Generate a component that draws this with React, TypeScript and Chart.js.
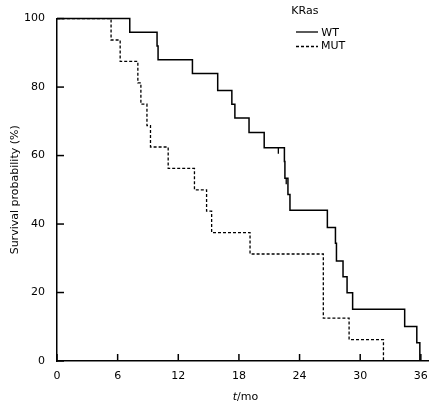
import React, { useEffect, useRef } from 'react';
import { Chart, registerables } from 'chart.js';

Chart.register(...registerables);

const xTicks = [0, 6, 12, 18, 24, 30, 36];
const yTicks = [0, 20, 40, 60, 80, 100];

const wtTimes = [0, 7.2, 9.9, 10.0, 13.4, 15.9, 17.3, 17.6, 19.0, 20.5, 22.5, 22.55, 22.85, 23.05, 26.75, 27.55, 27.65, 28.3, 28.7, 29.25, 34.4, 35.6, 35.9];
const wtSurv = [100, 96, 92, 88, 84, 79, 75, 71, 66.7, 62.3, 58.3, 53.4, 48.6, 44, 39, 34.4, 29.2, 24.6, 19.9, 15.1, 10.1, 5.3, 0];

const mutTimes = [0, 5.35, 6.25, 8.0, 8.3, 8.9, 9.25, 11.0, 13.6, 14.8, 15.3, 19.1, 26.35, 28.9, 32.3];
const mutSurv = [100, 93.75, 87.5, 81.25, 75, 68.75, 62.5, 56.25, 50, 43.75, 37.5, 31.25, 12.5, 6.25, 0];

const wtCensorTimes = [21.9, 22.68];
const wtCensorSurv = [62.3, 53.4];

const seriesLabels = ['WT', 'MUT'];
const legendTitle = 'KRas';
const yTitle = 'Survival probability (%)';
const xTitleItalic = 't';
const xTitleRest = '/mo';

const FONT = '"DejaVu Sans", Verdana, sans-serif';

const decorPlugin = {
  id: 'decor',
  afterDraw(chart: any) {
    const ctx = chart.ctx as CanvasRenderingContext2D;
    const xs = chart.scales.x;
    const ys = chart.scales.y;
    ctx.save();
    ctx.strokeStyle = '#000';
    ctx.lineWidth = 1.5;
    ctx.setLineDash([]);
    // inner ticks
    yTicks.forEach((v) => {
      const y = ys.getPixelForValue(v);
      ctx.beginPath();
      ctx.moveTo(xs.left, y);
      ctx.lineTo(xs.left + 7, y);
      ctx.stroke();
    });
    xTicks.forEach((v) => {
      const x = xs.getPixelForValue(v);
      ctx.beginPath();
      ctx.moveTo(x, ys.bottom);
      ctx.lineTo(x, ys.bottom - 7);
      ctx.stroke();
    });
    // censor marks
    ctx.lineWidth = 1.3;
    wtCensorTimes.forEach((t, i) => {
      const x = xs.getPixelForValue(t);
      const y = ys.getPixelForValue(wtCensorSurv[i]);
      ctx.beginPath();
      ctx.moveTo(x, y);
      ctx.lineTo(x, y + 6);
      ctx.stroke();
    });
    // legend
    ctx.fillStyle = '#000';
    ctx.font = `11px ${FONT}`;
    ctx.textAlign = 'left';
    ctx.textBaseline = 'alphabetic';
    ctx.fillText(legendTitle, 291.3, 13.5);
    ctx.lineWidth = 1.3;
    ctx.beginPath();
    ctx.moveTo(296, 32);
    ctx.lineTo(318, 32);
    ctx.stroke();
    ctx.fillText(seriesLabels[0], 321.3, 35.7);
    ctx.setLineDash([3, 2]);
    ctx.beginPath();
    ctx.moveTo(296, 46.5);
    ctx.lineTo(318, 46.5);
    ctx.stroke();
    ctx.setLineDash([]);
    ctx.fillText(seriesLabels[1], 321, 49.3);
    // x title
    ctx.font = `italic 11px ${FONT}`;
    const w1 = ctx.measureText(xTitleItalic).width;
    ctx.font = `11px ${FONT}`;
    const w2 = ctx.measureText(xTitleRest).width;
    const start = 245.5 - (w1 + w2) / 2;
    ctx.font = `italic 11px ${FONT}`;
    ctx.fillText(xTitleItalic, start, 400);
    ctx.font = `11px ${FONT}`;
    ctx.fillText(xTitleRest, start + w1, 400);
    ctx.restore();
  },
};

export default function App() {
  const ref = useRef<HTMLCanvasElement | null>(null);
  useEffect(() => {
    if (!ref.current) return;
    const chart = new Chart(ref.current, {
      type: 'line',
      data: {
        datasets: [
          {
            label: seriesLabels[0],
            data: wtTimes.map((t, i) => ({ x: t, y: wtSurv[i] })),
            borderColor: '#000',
            borderWidth: 1.5,
            stepped: true,
            pointRadius: 0,
            fill: false,
            clip: false as any,
          },
          {
            label: seriesLabels[1],
            data: mutTimes.map((t, i) => ({ x: t, y: mutSurv[i] })),
            borderColor: '#000',
            borderWidth: 1.3,
            borderDash: [3, 2],
            stepped: true,
            pointRadius: 0,
            fill: false,
            clip: false as any,
          },
        ],
      },
      options: {
        animation: false,
        responsive: true,
        maintainAspectRatio: false,
        layout: { padding: { top: 16, right: 7, left: 0, bottom: 0 } },
        plugins: { legend: { display: false }, tooltip: { enabled: false } },
        scales: {
          x: {
            type: 'linear',
            min: 0,
            max: 36.8,
            afterBuildTicks: (s: any) => {
              s.ticks = xTicks.map((v) => ({ value: v }));
            },
            afterFit: (s: any) => {
              s.height = 46;
            },
            grid: { display: true, drawOnChartArea: false, drawTicks: false },
            border: { display: true, color: '#000', width: 1.5 },
            ticks: {
              color: '#000',
              padding: 9,
              font: { family: FONT, size: 11 },
              maxRotation: 0,
              autoSkip: false,
            },
          },
          y: {
            type: 'linear',
            min: 0,
            max: 100,
            afterBuildTicks: (s: any) => {
              s.ticks = yTicks.map((v) => ({ value: v }));
            },
            afterFit: (s: any) => {
              s.width = 57;
            },
            grid: { display: true, drawOnChartArea: false, drawTicks: false },
            border: { display: true, color: '#000', width: 1.5 },
            ticks: {
              color: '#000',
              padding: 12,
              font: { family: FONT, size: 11 },
              autoSkip: false,
            },
            title: {
              display: true,
              text: yTitle,
              color: '#000',
              font: { family: FONT, size: 11 },
              padding: { top: 8.5, bottom: 0 },
            },
          },
        },
      },
      plugins: [decorPlugin],
    });
    return () => chart.destroy();
  }, []);
  return (
    <div style={{ position: 'fixed', left: 0, top: 0, width: 437, height: 407, background: '#fff' }}>
      <canvas ref={ref} />
    </div>
  );
}
